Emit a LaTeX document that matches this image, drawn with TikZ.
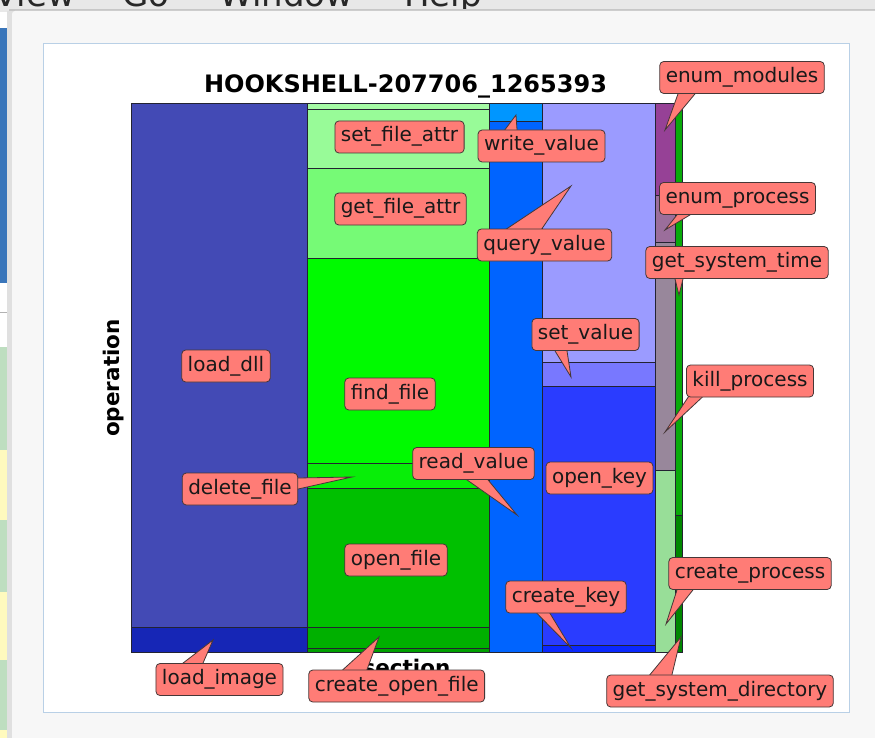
\documentclass[tikz,border=0pt]{standalone}
\usepackage{fontspec}
\setmainfont{DejaVu Sans}
\usetikzlibrary{calc}
\pgfdeclarelayer{back}
\pgfdeclarelayer{mid}
\pgfsetlayers{back,mid,main}
\definecolor{lblred}{RGB}{255,124,118}
\definecolor{lbledge}{RGB}{70,55,55}
\definecolor{celledge}{RGB}{35,35,50}
\definecolor{cLoadDll}{RGB}{67,74,181}
\definecolor{cLoadImg}{RGB}{22,38,182}
\definecolor{cThinTop}{RGB}{165,250,165}
\definecolor{cSetFA}{RGB}{152,251,152}
\definecolor{cGetFA}{RGB}{118,250,118}
\definecolor{cFind}{RGB}{0,250,0}
\definecolor{cDel}{RGB}{8,238,8}
\definecolor{cOpenF}{RGB}{0,192,0}
\definecolor{cCOF}{RGB}{0,176,0}
\definecolor{cThin}{RGB}{0,160,0}
\definecolor{cWrite}{RGB}{0,150,255}
\definecolor{cRead}{RGB}{0,100,255}
\definecolor{cQuery}{RGB}{155,155,255}
\definecolor{cSetV}{RGB}{120,120,255}
\definecolor{cOpenK}{RGB}{42,60,255}
\definecolor{cCreK}{RGB}{10,40,255}
\definecolor{cEnumM}{RGB}{150,65,150}
\definecolor{cEnumP}{RGB}{155,110,155}
\definecolor{cKill}{RGB}{152,135,155}
\definecolor{cCreP}{RGB}{152,222,152}
\definecolor{cSysT}{RGB}{10,170,10}
\definecolor{cSysD}{RGB}{0,135,0}
\definecolor{winbg}{RGB}{232,232,232}
\definecolor{dialog}{RGB}{247,247,247}
\definecolor{canvasedge}{RGB}{185,208,230}
\definecolor{sideblue}{RGB}{58,118,186}
\definecolor{sidegreen}{RGB}{190,222,192}
\definecolor{sideyellow}{RGB}{255,250,190}
\definecolor{menutext}{RGB}{40,40,40}
\newcommand\mkwedge[4]{%
  \coordinate (wa) at ($#2+#3$);
  \coordinate (wb) at ($#2+#4$);
  \filldraw[wedgeshape] ($(#1)!1.4!(wa)$) -- (#1) -- ($(#1)!1.4!(wb)$) -- cycle;}
\begin{document}
\begin{tikzpicture}[x=1pt,y=-1pt,
  cell/.style={draw=celledge, line width=0.7pt},
  lbl/.style={draw=lbledge, fill=lblred, rounded corners=4pt, line width=0.8pt,
    font=\fontsize{20}{24}\selectfont, text=black!90,
    text height=15pt, text depth=5pt, inner xsep=6pt, inner ysep=6pt},
  wedgeshape/.style={draw=lbledge, fill=lblred, line width=0.8pt},
  axlbl/.style={font=\bfseries\fontsize{21.5}{24}\selectfont},
  menu/.style={font=\fontsize{34}{40}\selectfont, text=menutext, anchor=base west, inner sep=0pt}]
\useasboundingbox (0,0) rectangle (875,738);

\begin{pgfonlayer}{back}
% window background
\fill[winbg] (0,0) rectangle (875,738);
\node[menu] (mView) at (-6,7) {View};
\node[menu] (mGo) at (122,7) {Go};
\node[menu] (mWin) at (219,7) {Window};
\node[menu] (mHelp) at (404,7) {Help};
% left strip of the window behind
\fill[white] (0,12) rectangle (10,28);
\fill[sideblue] (0,28) rectangle (10,283);
\fill[white] (0,283) rectangle (10,347);
\draw[black!30] (0,312) -- (10,312);
\fill[sidegreen] (0,347) rectangle (10,450);
\fill[sideyellow] (0,450) rectangle (10,520);
\fill[sidegreen] (0,520) rectangle (10,592);
\fill[sideyellow] (0,592) rectangle (10,660);
\fill[sidegreen] (0,660) rectangle (10,730);
\fill[sideyellow] (0,730) rectangle (10,738);
% dialog with shadow
\fill[black!22] (9,9) rectangle (875,738);
\fill[black!12] (7,11) rectangle (875,738);
\fill[dialog, rounded corners=3pt] (12,11) rectangle (880,745);
% canvas
\filldraw[fill=white, draw=canvasedge, line width=0.8pt] (43,43) rectangle (849,712);

% mosaic cells
\path[cell, fill=cLoadDll] (131,103) rectangle (307,627);
\path[cell, fill=cLoadImg] (131,627) rectangle (307,652);
\path[cell, fill=cThinTop] (307,103) rectangle (489,109);
\path[cell, fill=cSetFA] (307,109) rectangle (489,168);
\path[cell, fill=cGetFA] (307,168) rectangle (489,258);
\path[cell, fill=cFind] (307,258) rectangle (489,463);
\path[cell, fill=cDel] (307,463) rectangle (489,488);
\path[cell, fill=cOpenF] (307,488) rectangle (489,627);
\path[cell, fill=cCOF] (307,627) rectangle (489,648);
\path[cell, fill=cThin] (307,648) rectangle (489,652);
\path[cell, fill=cWrite] (489,103) rectangle (542,121);
\path[cell, fill=cRead] (489,121) rectangle (542,652);
\path[cell, fill=cQuery] (542,103) rectangle (655,362);
\path[cell, fill=cSetV] (542,362) rectangle (655,386);
\path[cell, fill=cOpenK] (542,386) rectangle (655,645);
\path[cell, fill=cCreK] (542,645) rectangle (655,652);
\path[cell, fill=cEnumM] (655,103) rectangle (675,195);
\path[cell, fill=cEnumP] (655,195) rectangle (675,242);
\path[cell, fill=cKill] (655,242) rectangle (675,470);
\path[cell, fill=cCreP] (655,470) rectangle (675,652);
\path[cell, fill=cSysT] (675,103) rectangle (682,515);
\path[cell, fill=cSysD] (675,515) rectangle (682,652);

% title and axis labels
\node[font=\bfseries\fontsize{24}{28}\selectfont, anchor=base, inner sep=0pt] (title) at (405.5,93) {HOOKSHELL-207706\_1265393};
\node[axlbl, rotate=90, inner sep=0pt] (ylab) at (114,378) {operation};
\node[axlbl, anchor=base, inner sep=0pt] (xlab) at (406.5,675) {section};
\end{pgfonlayer}

% label boxes
\node[lbl] (lEM) at (742,77.5) {enum\_modules};
\node[lbl] (lEP) at (737.5,198.5) {enum\_process};
\node[lbl] (lST) at (737,262.5) {get\_system\_time};
\node[lbl] (lKP) at (750,381) {kill\_process};
\node[lbl] (lWV) at (541.5,146) {write\_value};
\node[lbl] (lQV) at (544.5,245) {query\_value};
\node[lbl] (lSFA) at (399.5,137) {set\_file\_attr};
\node[lbl] (lGFA) at (400.5,209) {get\_file\_attr};
\node[lbl] (lLD) at (226,366) {load\_dll};
\node[lbl] (lFF) at (390,394) {find\_file};
\node[lbl] (lDF) at (240,489) {delete\_file};
\node[lbl] (lRV) at (473.5,463.5) {read\_value};
\node[lbl] (lOF) at (396,560) {open\_file};
\node[lbl] (lOK) at (599.5,478) {open\_key};
\node[lbl] (lSV) at (585.5,334.5) {set\_value};
\node[lbl] (lCK) at (566,597) {create\_key};
\node[lbl] (lCP) at (750,573.5) {create\_process};
\node[lbl] (lSD) at (720,691) {get\_system\_directory};
\node[lbl] (lLI) at (219.5,679.5) {load\_image};
\node[lbl] (lCOF) at (396.7,686) {create\_open\_file};

% wedge tips
\coordinate (tEM) at (665,130);
\coordinate (tEP) at (665,230);
\coordinate (tST) at (679,295);
\coordinate (tKP) at (665,432);
\coordinate (tWV) at (516,115);
\coordinate (tQV) at (571,186);
\coordinate (tDF) at (352,477);
\coordinate (tRV) at (517,515);
\coordinate (tSV) at (571,377);
\coordinate (tCK) at (571,648);
\coordinate (tCP) at (666,624);
\coordinate (tSD) at (681,637);
\coordinate (tLI) at (213,640);
\coordinate (tCOF) at (379,637);

\begin{pgfonlayer}{mid}
\mkwedge{tEM}{(lEM.south)}{(-64,0)}{(-47,0)}
\mkwedge{tEP}{(lEP.south)}{(-60.5,0)}{(-47.5,0)}
\mkwedge{tST}{(lST.south)}{(-62,0)}{(-54,0)}
\mkwedge{tKP}{(lKP.south)}{(-62,0)}{(-48,0)}
\mkwedge{tWV}{(lWV.north)}{(-36.5,0)}{(-24.5,0)}
\mkwedge{tQV}{(lQV.north)}{(-37.5,0)}{(-2.5,0)}
\mkwedge{tDF}{(lDF.east)}{(0,-11)}{(0,0)}
\mkwedge{tRV}{(lRV.south)}{(-6.5,0)}{(14.5,0)}
\mkwedge{tSV}{(lSV.south)}{(-30.5,0)}{(-18.5,0)}
\mkwedge{tCK}{(lCK.south)}{(-29,0)}{(-16,0)}
\mkwedge{tCP}{(lCP.south)}{(-73,0)}{(-57,0)}
\mkwedge{tSD}{(lSD.north)}{(-70,0)}{(-48,0)}
\mkwedge{tLI}{(lLI.north)}{(-36.5,0)}{(-16.5,0)}
\mkwedge{tCOF}{(lCOF.north)}{(-53.7,0)}{(-29.7,0)}
\end{pgfonlayer}
\end{tikzpicture}
\end{document}
